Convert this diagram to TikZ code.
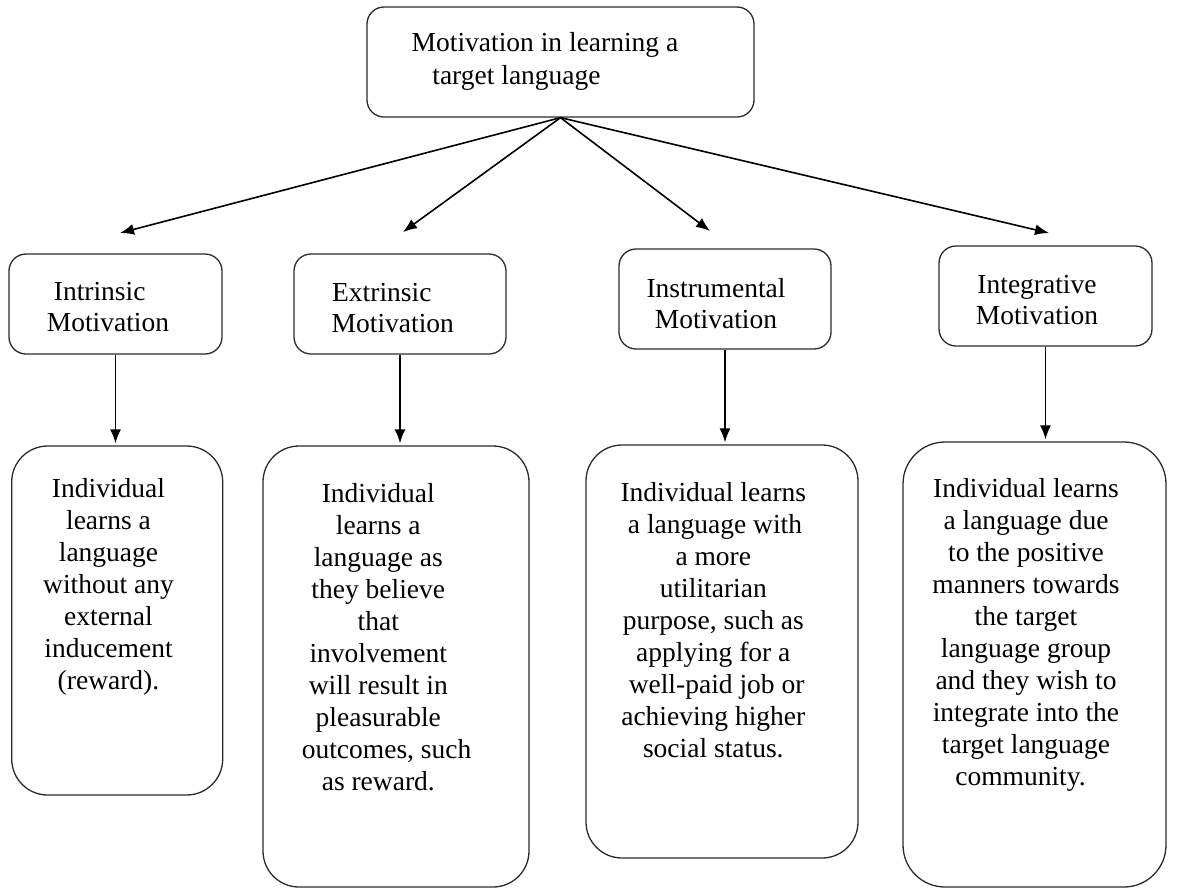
\documentclass[tikz,border=0pt]{standalone}
\usepackage{fontspec}
\setmainfont{Liberation Serif}
\usetikzlibrary{arrows.meta}
\definecolor{boxline}{HTML}{2B2B2B}

\begin{document}
\begin{tikzpicture}[x=1pt, y=-1pt, >={Latex[length=14pt,width=11pt]},
    box/.style={draw=boxline, line width=1.3pt, rounded corners=17pt, inner sep=0pt},
    descbox/.style={box, rounded corners=36pt},
    boxtext/.style={anchor=north, align=center, inner sep=0pt, font=\fontsize{27.5}{32}\selectfont},
    link/.style={line width=1.6pt}]
   \useasboundingbox (0,0) rectangle (1177,892);

   % top box
   \node[box, minimum width=387pt, minimum height=110pt] (motiv) at (560.5,62) {};
   \node[boxtext, font=\fontsize{27.5}{33}\selectfont] (motivtext) at (545,32.5)
      {Motivation in learning a\\target language\hspace*{57pt}};

   % kinds of motivation
   \node[box, minimum width=213pt, minimum height=100pt] (intr)  at (115.5,304) {};
   \node[box, minimum width=212pt, minimum height=100pt] (extr)  at (400,304)   {};
   \node[box, minimum width=212pt, minimum height=100pt] (instr) at (725,299)   {};
   \node[box, minimum width=213pt, minimum height=100pt] (integ) at (1045.5,296) {};
   \node[boxtext, font=\fontsize{27.5}{31}\selectfont] (intrtext)  at (108,282.5)  {Intrinsic\hspace*{16.6pt}\\Motivation};
   \node[boxtext, font=\fontsize{27.5}{31}\selectfont] (extrtext)  at (392.8,283)  {Extrinsic\hspace*{22pt}\\Motivation};
   \node[boxtext, font=\fontsize{27.5}{31}\selectfont] (instrtext) at (716,278)    {Instrumental\\Motivation};
   \node[boxtext, font=\fontsize{27.5}{31}\selectfont] (integtext) at (1037,275)   {Integrative\\Motivation};

   % descriptions
   \node[descbox, minimum width=211pt, minimum height=349pt] (intrd)  at (117.2,620.5) {};
   \node[descbox, minimum width=266pt, minimum height=441pt] (extrd)  at (396,666.5)   {};
   \node[descbox, minimum width=272pt, minimum height=413pt] (instrd) at (722,651.5)   {};
   \node[descbox, minimum width=263pt, minimum height=445pt, rounded corners=42pt] (integd) at (1034.5,664.5) {};

   \node[boxtext] (intrdtext) at (108.5,478.5)
      {Individual\\learns a\\language\\without any\\external\\inducement\\(reward).};
   \node[boxtext] (extrdtext) at (378.3,483)
      {Individual\\learns a\hspace*{13pt}\\language as\\they believe\hspace*{6pt}\\that\hspace*{16pt}\\involvement\\will result in\\pleasurable\\\hspace*{16.6pt}outcomes, such\\as reward.};
   \node[boxtext] (instrdtext) at (713.3,482.5)
      {Individual learns\\\hspace*{3.4pt}a language with\\a more\hspace*{27.4pt}\\utilitarian\hspace*{9pt}\\purpose, such as\\applying for a\\\hspace*{6.6pt}well-paid job or\\achieving higher\\social status.};
   \node[boxtext] (integdtext) at (1026,478)
      {Individual learns\\a language due\hspace*{5.4pt}\\to the positive\\manners towards\\the target\hspace*{13pt}\\language group\\and they wish to\\integrate into the\\target language\\community.\hspace*{11pt}};

   % arrows
   \coordinate (tipintr)  at (120,233);
   \coordinate (tipextr)  at (403,232);
   \coordinate (tipinstr) at (710,231);
   \coordinate (tipinteg) at (1049,233);
   \path[->, link]
      (motiv.south) edge (tipintr)
                    edge (tipextr)
                    edge (tipinstr)
                    edge (tipinteg);
   \path[->, link, shorten >=2pt]
      (intr)  edge (intr |- intrd.north)
      (extr)  edge (extr |- extrd.north)
      (instr) edge (instr |- instrd.north)
      (integ) edge (integ |- integd.north);
\end{tikzpicture}
\end{document}
